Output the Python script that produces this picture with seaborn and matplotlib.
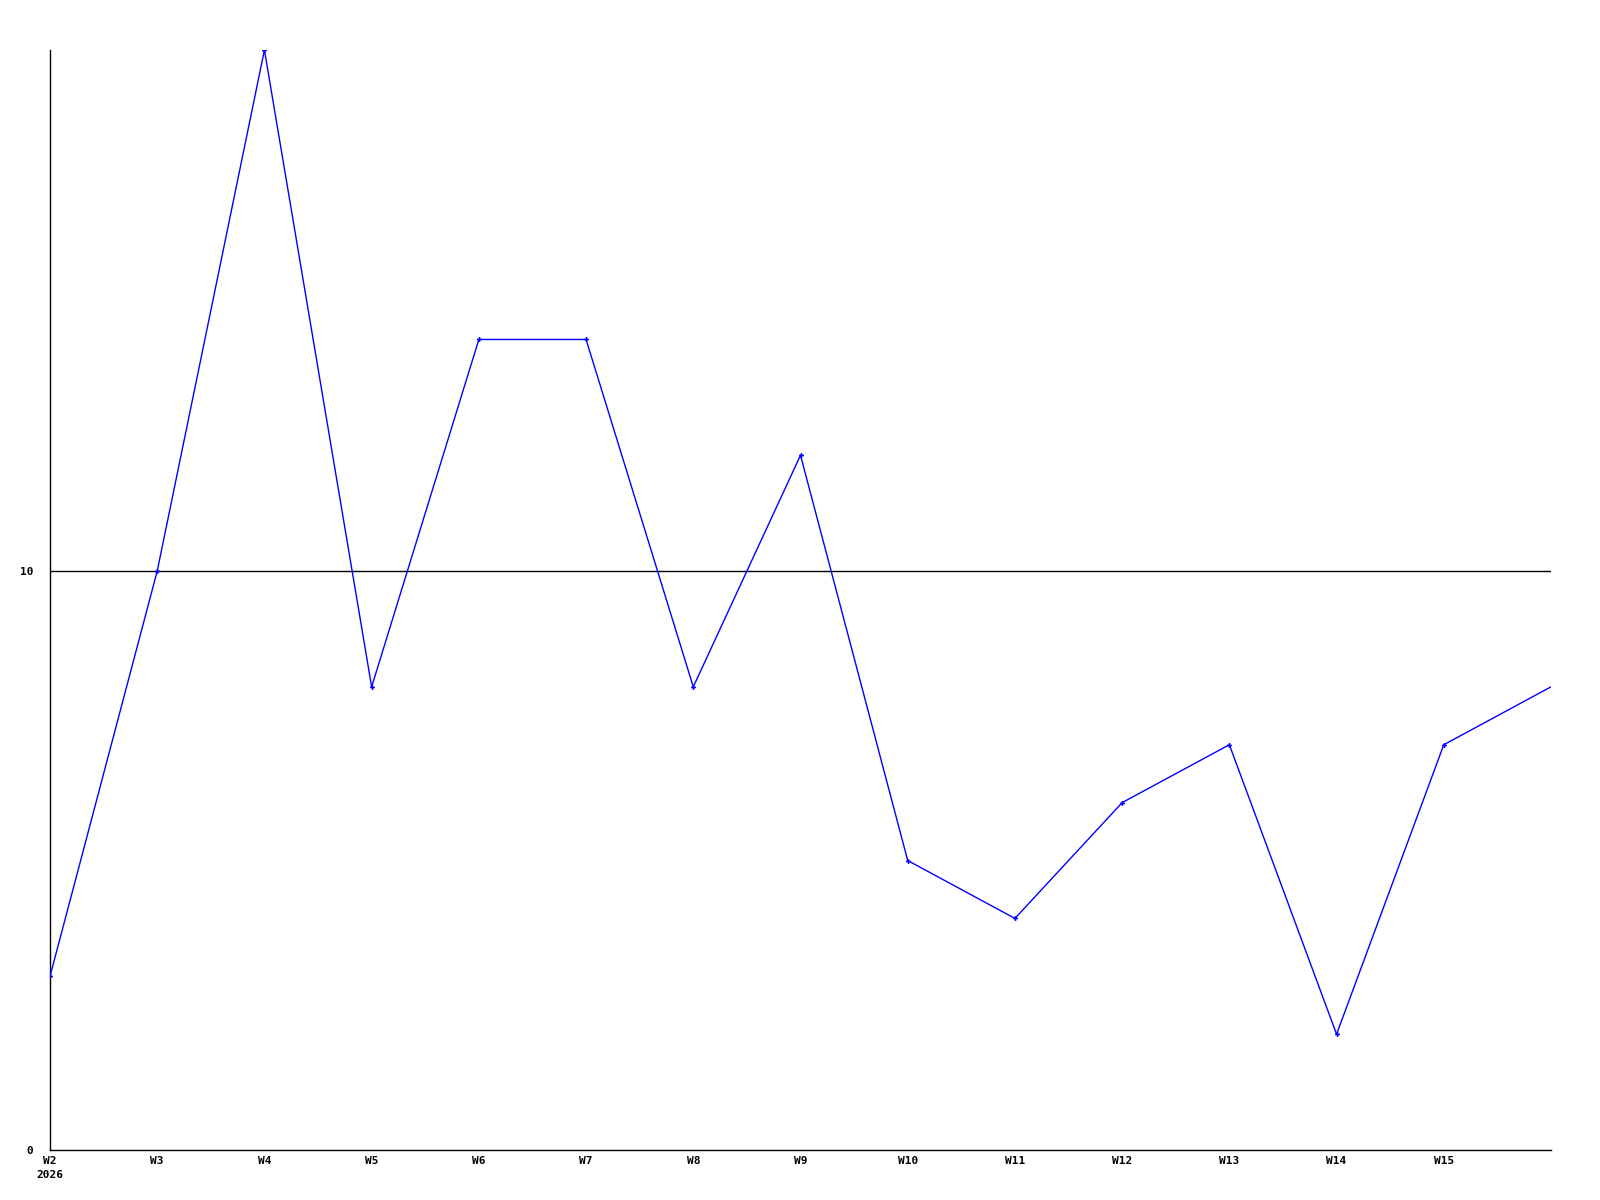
import matplotlib
matplotlib.use("Agg")
import matplotlib.pyplot as plt
import seaborn as sns
import pandas as pd

weeks = ["W2", "W3", "W4", "W5", "W6", "W7", "W8", "W9", "W10",
         "W11", "W12", "W13", "W14", "W15", "W16"]
values = [3, 10, 19, 8, 14, 14, 8, 12, 5, 4, 6, 7, 2, 7, 8]
tick_labels = ["W2\n2026", "W3", "W4", "W5", "W6", "W7", "W8", "W9", "W10",
               "W11", "W12", "W13", "W14", "W15"]

df = pd.DataFrame({"idx": range(len(weeks)), "week": weeks, "value": values})

sns.set_style("white")
plt.rcParams["font.family"] = ["DejaVu Sans Mono"]

fig = plt.figure(figsize=(16, 12), dpi=100)
ax = fig.add_axes([50 / 1600, 50 / 1200, 1501 / 1600, 1100 / 1200])

ax.axhline(10, color="black", linewidth=1, zorder=1)
sns.lineplot(data=df, x="idx", y="value", ax=ax, color="#0000ff",
             linewidth=1, marker="P", markersize=3.5, markeredgewidth=0,
             markevery=list(range(len(weeks) - 1)), zorder=3)

ax.set_xlim(0, 14)
ax.set_ylim(0, 19)
ax.set_xticks(range(len(tick_labels)))
ax.set_xticklabels(tick_labels, fontsize=8, fontweight="bold", linespacing=1.6)
ax.set_yticks([0, 10])
ax.set_yticklabels(["0", "10"], fontsize=8, fontweight="bold")
ax.tick_params(axis="x", length=0, pad=4, labelcolor="black")
ax.tick_params(axis="y", length=0, pad=12, labelcolor="black")
ax.set_xlabel("")
ax.set_ylabel("")
for s in ["top", "right"]:
    ax.spines[s].set_visible(False)
for s in ["left", "bottom"]:
    ax.spines[s].set_color("black")
    ax.spines[s].set_linewidth(1)

fig.savefig("out.png", dpi=100)
